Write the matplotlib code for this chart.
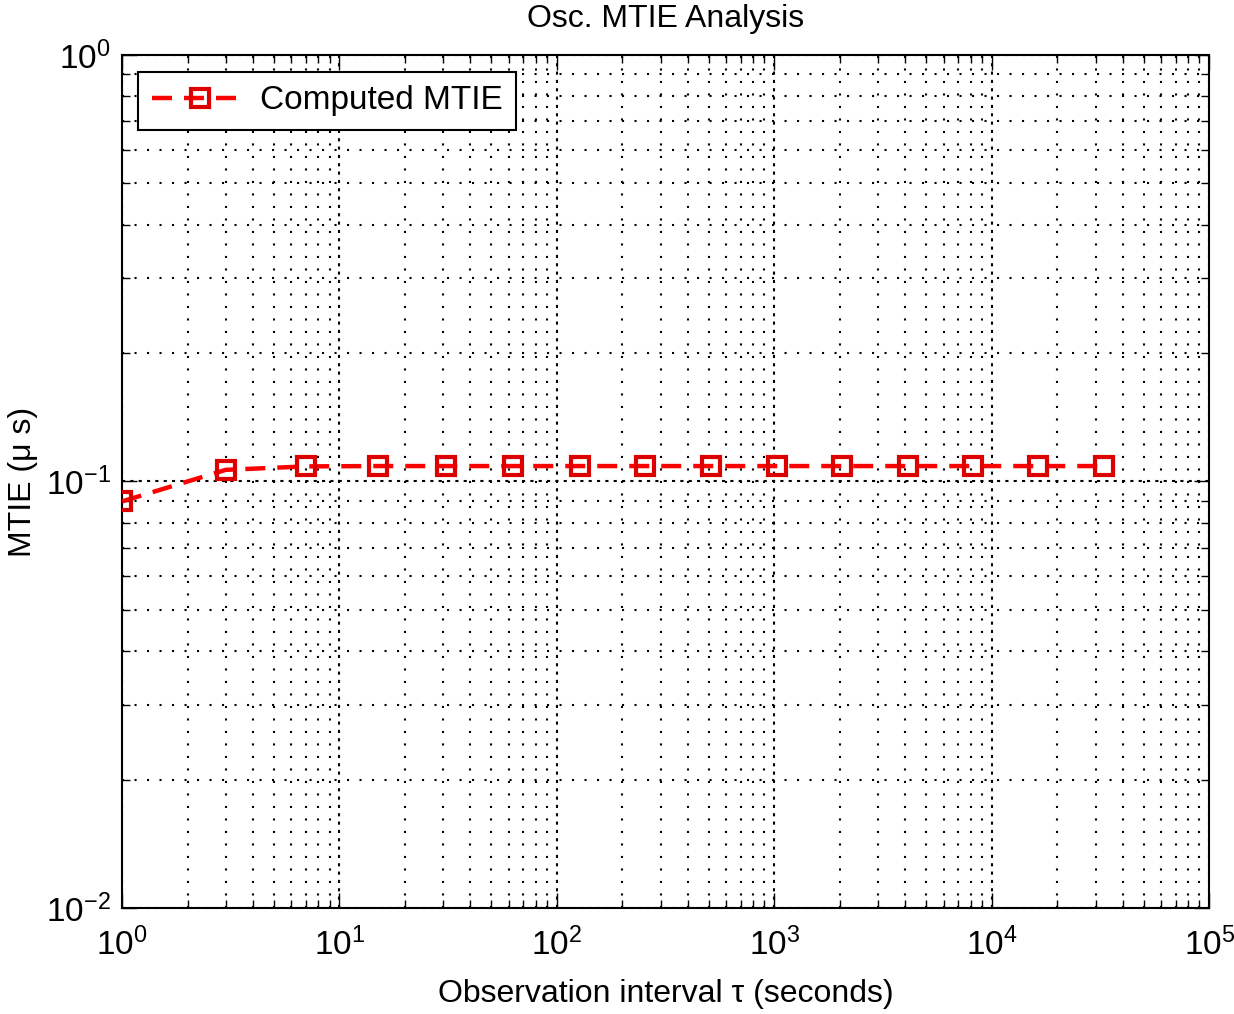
import matplotlib
matplotlib.use("Agg")
import matplotlib.pyplot as plt
from matplotlib.ticker import LogLocator, NullFormatter

plt.rcParams['font.family'] = ['Liberation Sans', 'DejaVu Sans']
plt.rcParams['mathtext.fontset'] = 'custom'
plt.rcParams['mathtext.rm'] = 'Liberation Sans'
plt.rcParams['mathtext.it'] = 'Liberation Sans:italic'
plt.rcParams['axes.unicode_minus'] = False

tau = [1, 3, 7, 15, 31, 63, 127, 255, 511, 1023, 2047, 4095, 8191, 16383, 32767]
mtie = [0.0898, 0.1065, 0.1085, 0.1087, 0.1087, 0.1087, 0.1087, 0.1087,
        0.1087, 0.1087, 0.1087, 0.1087, 0.1087, 0.1087, 0.1087]

fig = plt.figure(figsize=(12.34, 10.14), dpi=100)
ax = fig.add_axes([0.0989, 0.1045, 0.8811, 0.8413])
ax.set_xscale('log')
ax.set_yscale('log')
ax.plot(tau, mtie, linestyle='--', color='red', linewidth=3.2, dashes=(4.5, 2.7),
        marker='s', markersize=12.5, markerfacecolor='none', markeredgecolor='#dd0000',
        markeredgewidth=3, label='Computed MTIE', zorder=5)
ax.set_xlim(1, 1e5)
ax.set_ylim(1e-2, 1)
ax.xaxis.set_major_locator(LogLocator(base=10, numticks=10))
ax.xaxis.set_minor_locator(LogLocator(base=10, subs=range(2, 10), numticks=20))
ax.yaxis.set_minor_locator(LogLocator(base=10, subs=range(2, 10), numticks=20))
ax.xaxis.set_minor_formatter(NullFormatter())
ax.yaxis.set_minor_formatter(NullFormatter())
ax.grid(True, which='minor', linestyle=(0, (1, 5)), color='black', linewidth=1.5)
ax.grid(True, which='major', linestyle=(0, (1.5, 2.5)), color='black', linewidth=1.5)
ax.tick_params(which='both', direction='in', top=True, right=True, labelsize=24)
ax.tick_params(which='major', length=11, width=1)
ax.tick_params(which='minor', length=6, width=1)
ax.tick_params(axis='x', pad=14)
ax.tick_params(axis='y', pad=8)
for s in ax.spines.values():
    s.set_linewidth(1.5)
ax.set_title('Osc. MTIE Analysis', fontsize=23, pad=20)
ax.set_xlabel('Observation interval τ (seconds)', fontsize=23, labelpad=12)
ax.set_ylabel('MTIE (μ s)', fontsize=23)
ax.yaxis.set_label_coords(-0.077, 0.5)
leg = ax.legend(loc='upper left', fontsize=24, fancybox=False, framealpha=1,
                edgecolor='black', borderpad=0.4, handlelength=2.9, handletextpad=0.35,
                borderaxespad=0, bbox_to_anchor=(0.015, 0.98))
leg.get_frame().set_linewidth(1.5)
fig.savefig('out.png', dpi=100)
